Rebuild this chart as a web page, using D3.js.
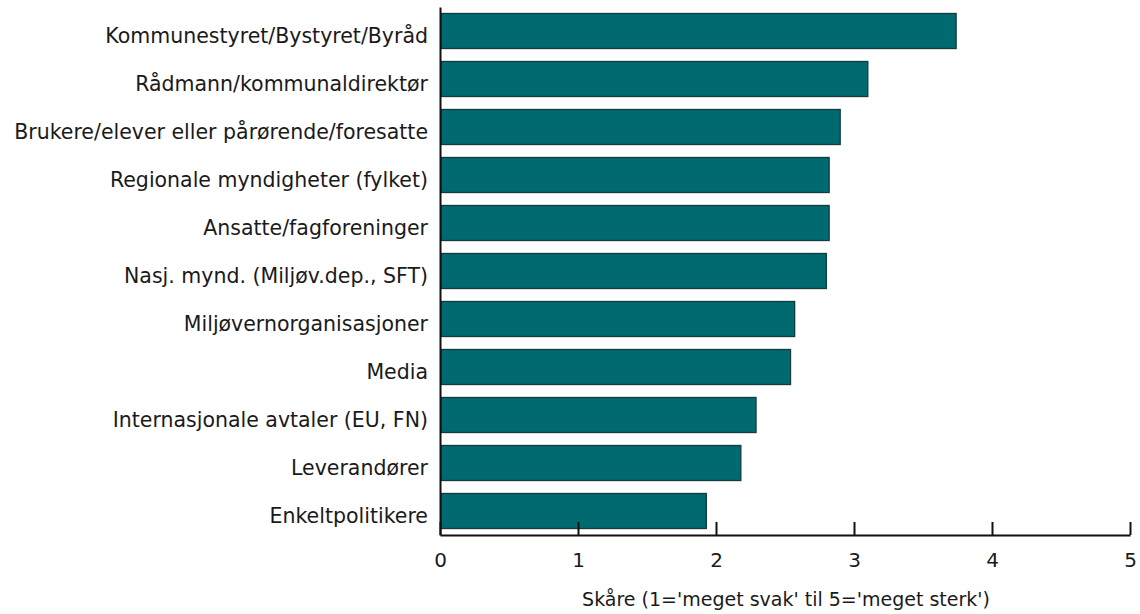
<!DOCTYPE html>
<html>
<head>
<meta charset="utf-8">
<script src="https://cdn.jsdelivr.net/npm/d3@7"></script>
<style>
  html, body { margin: 0; padding: 0; background: #ffffff; }
  svg { display: block; }
</style>
</head>
<body>
<svg id="chart" width="1140" height="614"></svg>
<script>
const categories = [
  "Kommunestyret/Bystyret/Byråd",
  "Rådmann/kommunaldirektør",
  "Brukere/elever eller pårørende/foresatte",
  "Regionale myndigheter (fylket)",
  "Ansatte/fagforeninger",
  "Nasj. mynd. (Miljøv.dep., SFT)",
  "Miljøvernorganisasjoner",
  "Media",
  "Internasjonale avtaler (EU, FN)",
  "Leverandører",
  "Enkeltpolitikere"
];
const scores = [3.74, 3.10, 2.90, 2.82, 2.82, 2.80, 2.57, 2.54, 2.29, 2.18, 1.93];
const xTicks = [0, 1, 2, 3, 4, 5];
const xTitle = "Skåre (1='meget svak' til 5='meget sterk')";

(function () {
const FONT = "'DejaVu Sans', sans-serif";
const svg = d3.select("#chart");
const mLeft = 440, mRight = 1130, mTop = 7, mBottom = 535;

const x = d3.scaleLinear().domain([0, 5]).range([mLeft, mRight]);
const y = d3.scaleBand().domain(categories).range([mTop, mBottom])
  .paddingInner(0.27).paddingOuter(0.135);

// bars
svg.append("g").selectAll("rect").data(categories).join("rect")
  .attr("x", x(0) + 1)
  .attr("y", d => y(d))
  .attr("width", (d, i) => x(scores[i]) - x(0) - 1)
  .attr("height", y.bandwidth())
  .attr("fill", "#006a71")
  .attr("stroke", "#163a3e")
  .attr("stroke-width", 1.3);

// y axis
const yAxis = svg.append("g").attr("transform", `translate(${mLeft},0)`)
  .call(d3.axisLeft(y).tickSize(0).tickPadding(12));
yAxis.select(".domain").attr("stroke", "#111").attr("stroke-width", 2);
yAxis.selectAll("text")
  .attr("font-family", FONT).attr("font-size", 20.5).attr("fill", "#1a1a1a")
  .attr("dy", "0.6em");

// x axis
const xAxis = svg.append("g").attr("transform", `translate(0,${mBottom})`)
  .call(d3.axisBottom(x).tickValues(xTicks).tickFormat(d3.format("d"))
    .tickSizeInner(-13).tickSizeOuter(0).tickPadding(18));
xAxis.select(".domain").attr("stroke", "#111").attr("stroke-width", 2);
xAxis.selectAll(".tick line").attr("stroke", "#111").attr("stroke-width", 2);
xAxis.selectAll("text")
  .attr("font-family", FONT).attr("font-size", 20).attr("fill", "#1a1a1a");

svg.append("text")
  .attr("x", 786).attr("y", 606)
  .attr("text-anchor", "middle")
  .attr("font-family", FONT).attr("font-size", 19).attr("fill", "#1a1a1a")
  .text(xTitle);
})();
</script>
</body>
</html>
